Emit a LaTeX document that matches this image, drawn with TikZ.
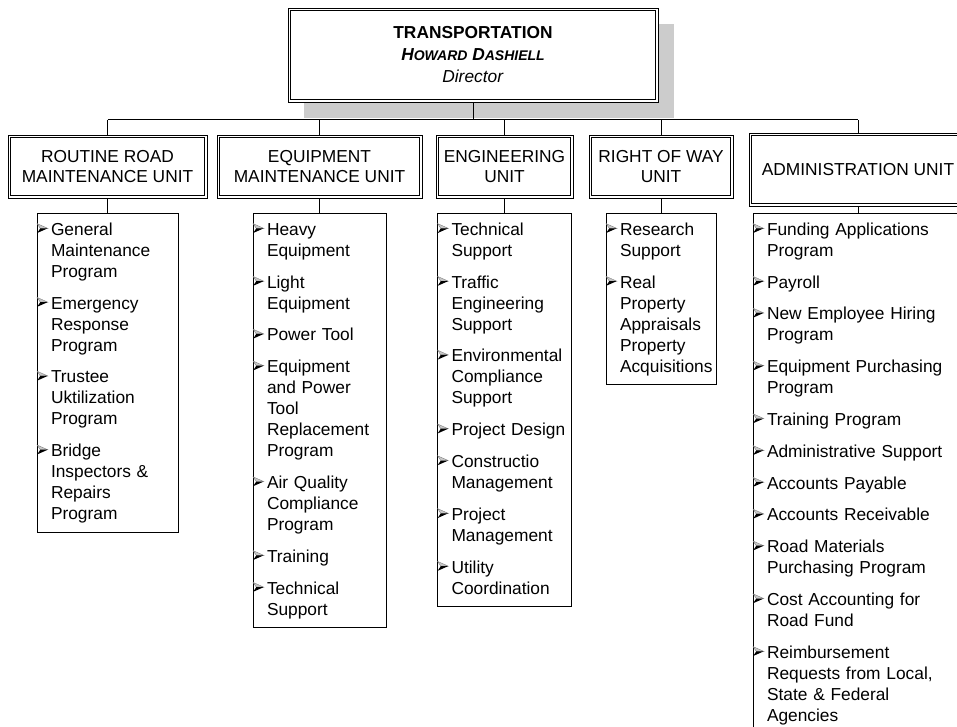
\documentclass[tikz,border=0pt]{standalone}
\usepackage{fontspec}
\setmainfont{Liberation Sans}
\usetikzlibrary{shadows}
\definecolor{shadowgray}{RGB}{204,204,204}
\definecolor{arrowgray}{RGB}{200,200,200}
% 3-d arrowhead bullet
\newcommand\bul{\makebox[10.5pt][l]{\tikz[x=1pt,y=1pt,baseline=0pt,line width=0.3pt,line join=miter]{%
  \filldraw[fill=arrowgray,draw=gray] (0.4,8.7) -- (8.3,5.2) -- (2.7,5.2) -- cycle;
  \fill[black] (0.4,1.7) -- (8.3,5.2) -- (2.7,5.2) -- cycle;}}}
\newcommand\ind{\hspace*{10.5pt}}
\newcommand\topstr{\rule{0pt}{16.5pt}}
\newcommand\botstr{\rule[-9.5pt]{0pt}{0pt}}
\newcommand\sml[1]{{\fontsize{10.5}{12}\selectfont #1}}
\begin{document}
\begin{tikzpicture}[x=0.75pt,y=-0.75pt,line width=0.75pt,
    font=\fontsize{13}{15.75}\selectfont,
    topbox/.style={draw,fill=white,align=center,inner sep=0pt,
      minimum width=277.5pt,minimum height=70.5pt,
      font=\fontsize{13}{16.5}\selectfont,
      drop shadow={shadow xshift=12pt,shadow yshift=-12pt,fill=shadowgray,opacity=1}},
    unitbox/.style={draw,align=center,inner sep=0pt,minimum height=47.25pt,
      font=\fontsize{13}{15}\selectfont},
    listbox/.style={draw,anchor=north,align=left,inner sep=0pt}]
  \path[use as bounding box,clip] (0,0) rectangle (957,726);
  % director
  \node[topbox] (dir) at (473,55) {\textbf{TRANSPORTATION}\\
    \textbf{\textit{H\sml{OWARD} D\sml{ASHIELL}}}\\ \textit{Director}};
  % units
  \node[unitbox,minimum width=149.25pt] (road) at (107.5,166.5) {ROUTINE ROAD\\MAINTENANCE UNIT};
  \node[unitbox,minimum width=153.75pt] (equip) at (319.5,166.5) {EQUIPMENT\\MAINTENANCE UNIT};
  \node[unitbox,minimum width=102.75pt] (eng) at (504.5,166.5) {ENGINEERING\\UNIT};
  \node[unitbox,minimum width=108pt] (row) at (661,166.5) {RIGHT OF WAY\\UNIT};
  \node[unitbox,minimum width=163.5pt,minimum height=54.75pt] (admin) at (858,169.5) {ADMINISTRATION UNIT};
  % inner frame of the double boxes
  \foreach \b in {dir,road,equip,eng,row,admin}
    \draw ([xshift=2.25pt,yshift=-2.25pt]\b.north west) rectangle ([xshift=-2.25pt,yshift=2.25pt]\b.south east);
  % programs
  \node[listbox,text width=105.75pt] (road-list) at (107.5,213) {\topstr\bul General\\ \ind Maintenance\\ \ind Program\\[8.1pt]
    \bul Emergency\\ \ind Response\\ \ind Program\\[8.1pt]
    \bul Trustee\\ \ind Uktilization\\ \ind Program\\[8.1pt]
    \bul Bridge\\ \ind Inspectors \&\\ \ind Repairs\\ \ind Program\botstr};
  \node[listbox,text width=99.75pt] (equip-list) at (319.5,213) {\topstr\bul Heavy\\ \ind Equipment\\[8.1pt]
    \bul Light\\ \ind Equipment\\[8.1pt]
    \bul Power Tool\\[8.1pt]
    \bul Equipment\\ \ind and Power\\ \ind Tool\\ \ind Replacement\\ \ind Program\\[8.1pt]
    \bul Air Quality\\ \ind Compliance\\ \ind Program\\[8.1pt]
    \bul Training\\[8.1pt]
    \bul Technical\\ \ind Support\botstr};
  \node[listbox,text width=100.5pt] (eng-list) at (504.5,213) {\topstr\bul Technical\\ \ind Support\\[8.1pt]
    \bul Traffic\\ \ind Engineering\\ \ind Support\\[8.1pt]
    \bul Environmental\\ \ind Compliance\\ \ind Support\\[8.1pt]
    \bul Project Design\\[8.1pt]
    \bul Constructio\\ \ind Management\\[8.1pt]
    \bul Project\\ \ind Management\\[8.1pt]
    \bul Utility\\ \ind Coordination\botstr};
  \node[listbox,text width=82.5pt] (row-list) at (661,213) {\topstr\bul Research\\ \ind Support\\[8.1pt]
    \bul Real\\ \ind Property\\ \ind Appraisals\\ \ind Property\\ \ind Acquisitions\botstr};
  \node[listbox,text width=157.5pt] (admin-list) at (858,213) {\topstr\bul Funding Applications\\ \ind Program\\[8.1pt]
    \bul Payroll\\[8.1pt]
    \bul New Employee Hiring\\ \ind Program\\[8.1pt]
    \bul Equipment Purchasing\\ \ind Program\\[8.1pt]
    \bul Training Program\\[8.1pt]
    \bul Administrative Support\\[8.1pt]
    \bul Accounts Payable\\[8.1pt]
    \bul Accounts Receivable\\[8.1pt]
    \bul Road Materials\\ \ind Purchasing Program\\[8.1pt]
    \bul Cost Accounting for\\ \ind Road Fund\\[8.1pt]
    \bul Reimbursement\\ \ind Requests from Local,\\ \ind State \& Federal\\ \ind Agencies\botstr};
  % connectors
  \coordinate (busL) at (107.5,119.5);
  \coordinate (busR) at (858,119.5);
  \draw (busL) -- (busR);
  \draw (dir.south) -- (dir.south |- busL);
  \foreach \u in {road,equip,eng,row,admin} {
    \draw (\u.north) -- (\u.north |- busL);
    \draw (\u.south) -- (\u-list.north);
  }
\end{tikzpicture}
\end{document}
